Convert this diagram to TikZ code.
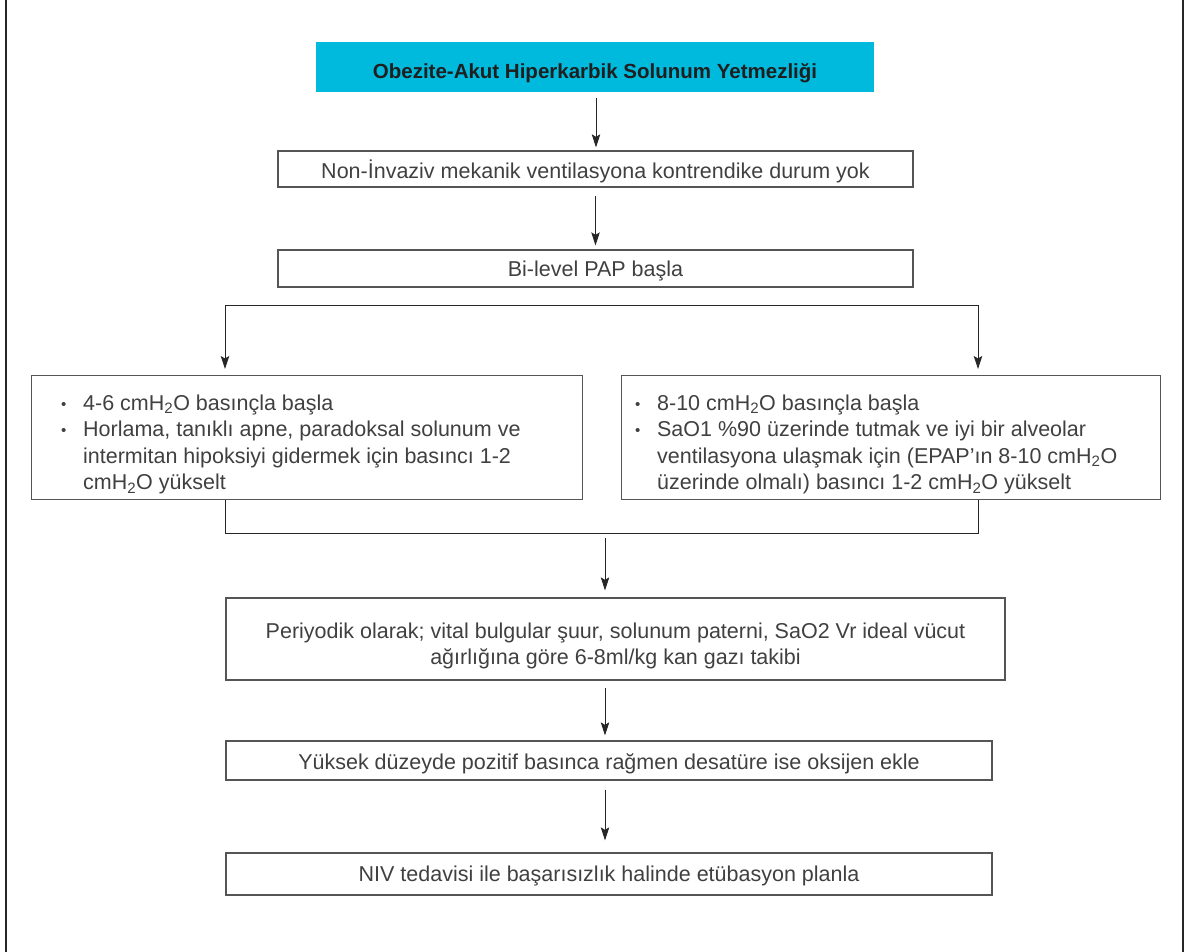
\documentclass[tikz,border=0pt]{standalone}
\usepackage{fontspec}
\setmainfont{Liberation Sans}
\usetikzlibrary{arrows.meta}
\definecolor{txt}{HTML}{404040}
\definecolor{titlefill}{RGB}{0,186,222}
\definecolor{edge}{HTML}{555555}
\newcommand{\hto}{H\textsubscript{2}O}
% bullet paragraph with hanging indent; lines are split with \newline
\newcommand{\bitem}[1]{\par\hangindent=22pt\hangafter=1\noindent
  \makebox[22pt][l]{\raisebox{1pt}{\scalebox{0.7}{•}}}#1\par}
% lower a node's text without changing the node's size
\newcommand{\lowered}[2]{\raisebox{-#1}[\height][\depth]{#2}}

\begin{document}
\begin{tikzpicture}[x=1pt,y=-1pt,
  box/.style={draw=edge, line width=1.3pt, rectangle, inner sep=0pt,
    text=txt, font=\fontsize{21.5}{26.5}\selectfont, align=center},
  listbox/.style={draw=edge, line width=1.3pt, rectangle, inner sep=0pt,
    text=txt, font=\fontsize{21.5}{26.5}\selectfont, anchor=north west},
  titlebox/.style={fill=titlefill, rectangle, inner sep=0pt,
    text=black!88, font=\fontsize{20.5}{24}\selectfont\bfseries},
  flow/.style={-{Stealth[length=13pt,width=8.5pt,inset=2.5pt]}, line width=0.9pt, draw=black!85},
  link/.style={line width=0.9pt, draw=black!85}]
\useasboundingbox (0,0) rectangle (1186,952);

% page frame
\draw[line width=2pt, black!85] (6,0) -- (6,952);
\draw[line width=2pt, black!85] (1183,0) -- (1183,952);

% boxes
\node[titlebox, minimum width=558pt, minimum height=50pt] (title) at (595,67)
  {\lowered{6pt}{Obezite-Akut Hiperkarbik Solunum Yetmezliği}};
\node[box, minimum width=635pt, minimum height=36pt] (nocontra) at (595.5,169)
  {\lowered{2pt}{Non-İnvaziv mekanik ventilasyona kontrendike durum yok}};
\node[box, minimum width=635pt, minimum height=37pt] (bilevel) at (595.5,268.5)
  {\lowered{2.5pt}{Bi-level PAP başla}};

\node[listbox, minimum width=551pt, minimum height=124pt] (low) at (31,375)
  {\hspace*{28pt}\lowered{7pt}{\parbox{520pt}{%
   \bitem{4-6 cm\hto{} basınçla başla}
   \bitem{Horlama, tanıklı apne, paradoksal solunum ve\newline
          intermitan hipoksiyi gidermek için basıncı 1-2\newline
          cm\hto{} yükselt}}}};
\node[listbox, minimum width=539pt, minimum height=124pt] (high) at (621,375)
  {\hspace*{12pt}\lowered{7pt}{\parbox{524pt}{%
   \bitem{8-10 cm\hto{} basınçla başla}
   \bitem{SaO1 \%90 üzerinde tutmak ve iyi bir alveolar\newline
          ventilasyona ulaşmak için (EPAP’ın 8-10 cm\hto\newline
          üzerinde olmalı) basıncı 1-2 cm\hto{} yükselt}}}};

\node[box, minimum width=779pt, minimum height=82pt] (monitor) at (615.5,639)
  {\lowered{7pt}{\parbox{770pt}{\centering
   Periyodik olarak; vital bulgular şuur, solunum paterni, SaO2 Vr ideal vücut\\
   ağırlığına göre 6-8ml/kg kan gazı takibi}}};
\node[box, minimum width=766pt, minimum height=39pt] (oxygen) at (609,760.5)
  {\lowered{3pt}{Yüksek düzeyde pozitif basınca rağmen desatüre ise oksijen ekle}};
\node[box, minimum width=766pt, minimum height=42pt] (intub) at (609,874)
  {\lowered{2pt}{NIV tedavisi ile başarısızlık halinde etübasyon planla}};

% connectors
\draw[flow, shorten <=6pt, shorten >=3pt] (596,92) coordinate (t0) -- (t0 |- nocontra.north);
\draw[flow, shorten <=8pt, shorten >=4pt] (nocontra.south) -- (bilevel.north);

\coordinate (sl) at (225,305);
\coordinate (sr) at (978,305);
\draw[link] (sl) -- (sr);
\draw[flow, shorten >=6pt] (sl) -- (sl |- low.north);
\draw[flow, shorten >=6pt] (sr) -- (sr |- high.north);

\coordinate (ml) at (225,533);
\coordinate (mr) at (978,533);
\draw[link] (low.south -| ml) -- (ml) -- (mr) -- (high.south -| mr);
\coordinate (mc) at (605,533);
\draw[flow, shorten <=5pt, shorten >=7pt] (mc) -- (mc |- monitor.north);

\coordinate (c5) at (605,680);
\draw[flow, shorten <=7pt, shorten >=5pt] (monitor.south -| c5) -- (c5 |- oxygen.north);
\draw[flow, shorten <=9pt, shorten >=12pt] (oxygen.south -| c5) -- (c5 |- intub.north);
\end{tikzpicture}
\end{document}
